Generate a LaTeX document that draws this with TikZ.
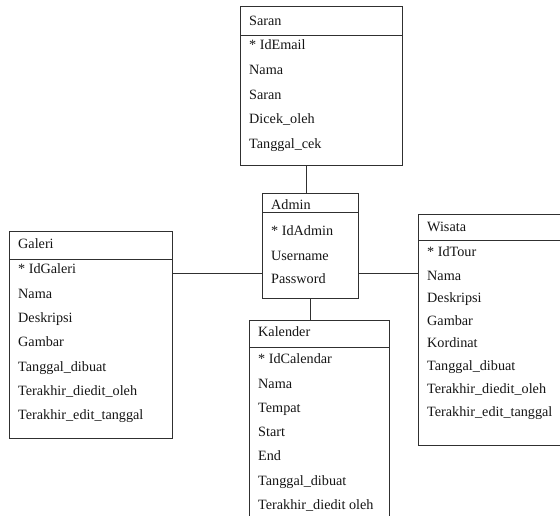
\documentclass[tikz,border=0pt]{standalone}
\usepackage{fontspec}
\setmainfont{Liberation Serif}
\definecolor{edge}{HTML}{303030}
\definecolor{ink}{HTML}{151515}
\tikzset{
  entbox/.style={draw=edge, line width=1pt, fill=white, inner sep=0pt, outer sep=0pt, anchor=north west},
  fld/.style={anchor=mid west, inner sep=0pt, text=ink, font=\fontsize{14.2}{16}\selectfont},
  link/.style={draw=edge, line width=1pt},
}
\newcommand{\entity}[6]{% name, x, y, w, h, headerline y
  \node[entbox, minimum width=#4pt, minimum height=#5pt] (#1) at (#2,#3) {};
  \draw[link] (#2,#6) -- ++(#4,0);
}
\begin{document}
\begin{tikzpicture}[x=1pt,y=-1pt]
\clip (0,0) rectangle (560,516);
\fill[white] (0,0) rectangle (560,516);

% Saran
\entity{saran}{240}{7}{162}{159}{36}
\node[fld] (s0) at (249,23) {Saran};
\node[fld] (s1) at (249,47) {* IdEmail};
\node[fld] (s2) at (249,72) {Nama};
\node[fld] (s3) at (249,97) {Saran};
\node[fld] (s4) at (249,121) {Dicek\_oleh};
\node[fld] (s5) at (249,146) {Tanggal\_cek};

% Admin
\entity{admin}{262}{194}{96}{104}{213}
\node[fld] (a0) at (271,207) {Admin};
\node[fld] (a1) at (271,233) {* IdAdmin};
\node[fld] (a2) at (271,258) {Username};
\node[fld] (a3) at (271,281) {Password};

% Galeri
\entity{galeri}{9}{231}{163}{207}{259}
\node[fld] (g0) at (18,246) {Galeri};
\node[fld] (g1) at (18,271) {* IdGaleri};
\node[fld] (g2) at (18,296) {Nama};
\node[fld] (g3) at (18,320) {Deskripsi};
\node[fld] (g4) at (18,344) {Gambar};
\node[fld] (g5) at (18,369) {Tanggal\_dibuat};
\node[fld] (g6) at (18,393) {Terakhir\_diedit\_oleh};
\node[fld] (g7) at (18,417) {Terakhir\_edit\_tanggal};

% Kalender
\entity{kalender}{249}{320}{140}{215}{347}
\node[fld] (k0) at (258,334) {Kalender};
\node[fld] (k1) at (258,361) {* IdCalendar};
\node[fld] (k2) at (258,386) {Nama};
\node[fld] (k3) at (258,410) {Tempat};
\node[fld] (k4) at (258,434) {Start};
\node[fld] (k5) at (258,458) {End};
\node[fld] (k6) at (258,483) {Tanggal\_dibuat};
\node[fld] (k7) at (258,507) {Terakhir\_diedit oleh};

% Wisata
\entity{wisata}{418}{215}{160}{230}{240}
\node[fld] (w0) at (427,229) {Wisata};
\node[fld] (w1) at (427,254) {* IdTour};
\node[fld] (w2) at (427,278) {Nama};
\node[fld] (w3) at (427,300) {Deskripsi};
\node[fld] (w4) at (427,323) {Gambar};
\node[fld] (w5) at (427,345) {Kordinat};
\node[fld] (w6) at (427,368) {Tanggal\_dibuat};
\node[fld] (w7) at (427,391) {Terakhir\_diedit\_oleh};
\node[fld] (w8) at (427,414) {Terakhir\_edit\_tanggal};

% connectors
\coordinate (cx1) at (306,0);
\coordinate (cx2) at (310,0);
\coordinate (ry) at (0,273);
\draw[link] (saran.south -| cx1) -- (admin.north -| cx1);
\draw[link] (admin.south -| cx2) -- (kalender.north -| cx2);
\draw[link] (galeri.east |- ry) -- (admin.west |- ry);
\draw[link] (admin.east |- ry) -- (wisata.west |- ry);
\end{tikzpicture}
\end{document}
